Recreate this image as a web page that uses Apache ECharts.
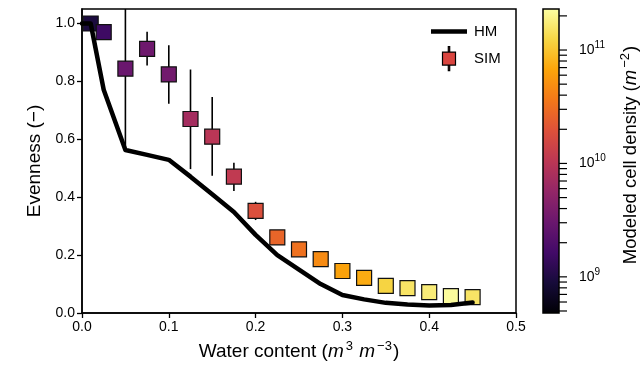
<!DOCTYPE html>
<html><head><meta charset="utf-8">
<script src="https://cdn.jsdelivr.net/npm/echarts@6/dist/echarts.min.js"></script>
<style>html,body{margin:0;padding:0;background:#fff}#c{width:643px;height:383px}</style>
</head><body><div id="c"></div>
<script>
// ---- data ----
var waterContent = [0.01, 0.025, 0.05, 0.075, 0.1, 0.125, 0.15, 0.175, 0.2, 0.225, 0.25, 0.275, 0.3, 0.325, 0.35, 0.375, 0.4, 0.425, 0.45];
var simEvenness  = [1.0, 0.970, 0.844, 0.912, 0.824, 0.670, 0.609, 0.471, 0.353, 0.261, 0.220, 0.186, 0.145, 0.121, 0.094, 0.086, 0.072, 0.058, 0.055];
var simLow       = [1.0, 0.970, 0.563, 0.855, 0.723, 0.497, 0.474, 0.421, 0.321, 0.252, 0.214, 0.181, 0.141, 0.118, 0.091, 0.083, 0.069, 0.055, 0.052];
var simHigh      = [1.0, 0.970, 1.300, 0.971, 0.925, 0.841, 0.746, 0.519, 0.384, 0.270, 0.226, 0.191, 0.149, 0.124, 0.097, 0.089, 0.075, 0.061, 0.058];
var cellDensity  = [9.5e8, 1.55e9, 3.07e9, 3.27e9, 3.47e9, 7.3e9, 1.0e10, 1.13e10, 1.85e10, 2.68e10, 3.23e10, 4.69e10, 6.39e10, 7.23e10, 1.19e11, 1.52e11, 1.72e11, 2.2e11, 1.52e11];
var hmWater      = [0.0, 0.01, 0.025, 0.05, 0.075, 0.1, 0.125, 0.15, 0.175, 0.2, 0.225, 0.25, 0.275, 0.3, 0.325, 0.35, 0.375, 0.4, 0.425, 0.45];
var hmEvenness   = [1.0, 1.0, 0.771, 0.563, 0.546, 0.529, 0.471, 0.41, 0.349, 0.27, 0.20, 0.15, 0.10, 0.062, 0.047, 0.035, 0.029, 0.026, 0.028, 0.036];
var densityMin = 4.8e8, densityMax = 2.3e11;
var xTicks = [0, 0.1, 0.2, 0.3, 0.4, 0.5];
var yTicks = [0, 0.2, 0.4, 0.6, 0.8, 1.0];
var cbMajor = [9, 10, 11];
var infernoStops = ['#000004','#160b39','#420a68','#6a176e','#932667','#bc3754','#dd513a','#f37819','#fca50a','#f6d746','#fcffa4'];

// ---- build ----
var lmin = Math.log10(densityMin), lmax = Math.log10(densityMax);
var cbTicks = [];
for (var e = 8; e <= 11; e++) for (var k = 1; k <= 9; k++) {
  var v = Math.log10(k * Math.pow(10, e));
  if (v >= lmin && v <= lmax) cbTicks.push([v]);
}
var simData = waterContent.map(function (x, i) { return [x, simEvenness[i], Math.log10(cellDensity[i])]; });
var errData = waterContent.map(function (x, i) { return [x, simLow[i], simHigh[i]]; });
var hmData = hmWater.map(function (x, i) { return [x, hmEvenness[i]]; });
var gradStops = infernoStops.map(function (c, i) { return { offset: i / (infernoStops.length - 1), color: c }; });

var font = 'Liberation Sans';
var chart = echarts.init(document.getElementById('c'), null, { renderer: 'canvas' });
chart.setOption({
  animation: false,
  textStyle: { fontFamily: font },
  grid: [
    { left: 82, top: 9, width: 434, height: 304, show: true, borderColor: '#000', borderWidth: 1.5, backgroundColor: 'transparent' },
    { left: 543, top: 9, width: 16, height: 304 }
  ],
  legend: {
    orient: 'vertical', left: 431, top: 24, padding: 0, itemWidth: 36, itemHeight: 24, itemGap: 7,
    textStyle: { fontFamily: font, fontSize: 15, color: '#000', padding: [0, 0, 0, 2] },
    data: [
      { name: 'HM', icon: 'path://M0,0h36v4.5h-36z', itemStyle: { color: '#000', borderWidth: 0 } },
      { name: 'SIM', icon: 'path://M0,5.5h13v13h-13z M5.8,0h1.4v5.5h-1.4z M5.8,18.5h1.4v5.5h-1.4z',
        itemStyle: { color: '#d9453f', borderColor: '#000', borderWidth: 1.2 } }
    ]
  },
  visualMap: {
    type: 'continuous', show: false, dimension: 2, seriesIndex: 1,
    min: lmin, max: lmax, inRange: { color: infernoStops }
  },
  xAxis: [
    { type: 'value', gridIndex: 0, min: 0, max: 0.5,
      name: '{t|Water content (}{i|m}{s|3}{t| }{i|m}{s|−3}{t|)}', nameLocation: 'middle', nameGap: 27,
      nameTextStyle: { rich: {
        t: { fontFamily: font, fontSize: 19, color: '#000' },
        i: { fontFamily: font, fontSize: 19, fontStyle: 'italic', color: '#000' },
        s: { fontFamily: font, fontSize: 13, color: '#000', padding: [0, 1, 10, 2] } } },
      axisLine: { onZero: false, lineStyle: { color: '#000', width: 1.5 } },
      axisTick: { length: 5, lineStyle: { color: '#000', width: 1.3 }, customValues: xTicks },
      axisLabel: { customValues: xTicks, color: '#000', fontSize: 14, fontFamily: font, margin: 7,
        formatter: function (v) { return v.toFixed(1); } },
      splitLine: { show: false } },
    { type: 'value', gridIndex: 1, min: 0, max: 1, show: false }
  ],
  yAxis: [
    { type: 'value', gridIndex: 0, min: 0, max: 1.05,
      name: 'Evenness (−)', nameLocation: 'middle', nameGap: 38,
      nameTextStyle: { fontFamily: font, fontSize: 19, color: '#000' },
      axisLine: { onZero: false, lineStyle: { color: '#000', width: 1.5 } },
      axisTick: { length: 5, lineStyle: { color: '#000', width: 1.3 }, customValues: yTicks },
      axisLabel: { customValues: yTicks, color: '#000', fontSize: 14, fontFamily: font, margin: 7,
        formatter: function (v) { return v.toFixed(1); } },
      splitLine: { show: false } },
    { type: 'value', gridIndex: 1, position: 'right', min: lmin, max: lmax,
      name: '{t|Modeled cell density (}{i|m}{s|−2}{t|)}', nameLocation: 'middle', nameGap: 60, nameRotate: 90,
      nameTextStyle: { padding: [0, 0, 0, 12], rich: {
        t: { fontFamily: font, fontSize: 18.5, color: '#000' },
        i: { fontFamily: font, fontSize: 18.5, fontStyle: 'italic', color: '#000' },
        s: { fontFamily: font, fontSize: 13, color: '#000', padding: [0, 1, 10, 2] } } },
      axisLine: { show: false },
      axisTick: { show: false },
      axisLabel: { show: true, customValues: cbMajor, margin: 20, color: '#000',
        formatter: function (v) { return '{b|10}{s|' + Math.round(v) + '}'; },
        rich: { b: { fontFamily: font, fontSize: 14, color: '#000' },
                s: { fontFamily: font, fontSize: 10, color: '#000', padding: [0, 0, 10, 0] } } },
      splitLine: { show: false } }
  ],
  series: [
    { type: 'custom', name: 'errorbars', xAxisIndex: 0, yAxisIndex: 0, clip: true, z: 1,
      data: errData,
      renderItem: function (params, api) {
        var p1 = api.coord([api.value(0), api.value(1)]);
        var p2 = api.coord([api.value(0), api.value(2)]);
        return { type: 'line', shape: { x1: p1[0], y1: p1[1], x2: p2[0], y2: p2[1] },
                 style: { stroke: '#000', lineWidth: 1.6 } };
      } },
    { type: 'scatter', name: 'SIM', xAxisIndex: 0, yAxisIndex: 0, z: 2, data: simData,
      symbol: 'rect', symbolSize: 15,
      itemStyle: { borderColor: '#111', borderWidth: 1.2, opacity: 1 } },
    { type: 'line', name: 'HM', xAxisIndex: 0, yAxisIndex: 0, z: 3, data: hmData,
      showSymbol: false, symbol: 'none', color: '#000',
      lineStyle: { color: '#000', width: 4.5, cap: 'round', join: 'round' } },
    { type: 'custom', name: 'colorbar', xAxisIndex: 1, yAxisIndex: 1, z: 1, data: [[0]],
      renderItem: function (params, api) {
        var cs = params.coordSys;
        return { type: 'rect', shape: { x: cs.x, y: cs.y, width: cs.width, height: cs.height },
                 style: { fill: new echarts.graphic.LinearGradient(0, 1, 0, 0, gradStops), stroke: '#000', lineWidth: 1.5 } };
      } },
    { type: 'custom', name: 'colorbarTicks', xAxisIndex: 1, yAxisIndex: 1, z: 3, data: cbTicks,
      renderItem: function (params, api) {
        var cs = params.coordSys;
        var p = api.coord([1, api.value(0)]);
        return { type: 'line', shape: { x1: cs.x + cs.width, y1: p[1], x2: cs.x + cs.width + 8, y2: p[1] },
                 style: { stroke: '#000', lineWidth: 1.2 } };
      } }
  ]
});
</script></body></html>
